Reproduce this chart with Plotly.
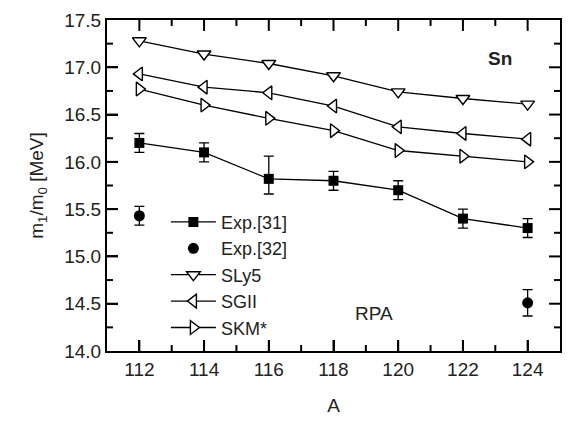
import plotly.graph_objects as go

A = [112, 114, 116, 118, 120, 122, 124]
sly5 = [17.28, 17.14, 17.04, 16.91, 16.74, 16.67, 16.61]
sgii = [16.93, 16.79, 16.73, 16.59, 16.37, 16.30, 16.24]
skm = [16.77, 16.60, 16.46, 16.33, 16.12, 16.06, 16.00]
exp31 = [16.2, 16.1, 15.82, 15.8, 15.7, 15.4, 15.3]
exp31_err_plus = [0.1, 0.1, 0.24, 0.1, 0.1, 0.1, 0.1]
exp31_err_minus = [0.1, 0.1, 0.16, 0.1, 0.1, 0.1, 0.1]
exp32_A = [112, 124]
exp32 = [15.43, 14.51]
exp32_err = [0.1, 0.14]

FONT = "Liberation Sans, Arial, sans-serif"
TXT = "#222222"
XR = [111, 125]
YR = [14.0, 17.5]
W, H = 572, 423
M = dict(l=107, r=10, t=20, b=70)

fig = go.Figure()
line = dict(color="black", width=1.3)
fig.add_trace(go.Scatter(x=A, y=exp31, mode="lines+markers", name="Exp.[31]",
                         line=line, marker=dict(symbol="square", size=10, color="black"),
                         error_y=dict(type="data", symmetric=False, array=exp31_err_plus,
                                      arrayminus=exp31_err_minus, color="black",
                                      thickness=1.3, width=5)))
fig.add_trace(go.Scatter(x=exp32_A, y=exp32, mode="markers", name="Exp.[32]",
                         marker=dict(symbol="circle", size=11, color="black"),
                         error_y=dict(type="data", array=exp32_err, color="black",
                                      thickness=1.3, width=5)))
for name, vals, sym in [("SLy5", sly5, "triangle-down"),
                        ("SGII", sgii, "triangle-left"),
                        ("SKM*", skm, "triangle-right")]:
    fig.add_trace(go.Scatter(x=A, y=vals, mode="lines+markers", name=name, line=line,
                             marker=dict(symbol=sym, size=12, color="white",
                                         line=dict(color="black", width=1.4))))

# inward tick marks on all four sides, drawn as one line trace at the tick values
pw = W - M["l"] - M["r"]
ph = H - M["t"] - M["b"]
dy_per_px = (YR[1] - YR[0]) / ph
dx_per_px = (XR[1] - XR[0]) / pw
major_x = A
minor_x = [a + 1 for a in A[:-1]]
major_y = [YR[0] + 0.5 * i for i in range(1, 7)]
minor_y = [YR[0] + 0.25 + 0.5 * i for i in range(7)]
tx, ty = [], []
for vals, ln in [(major_x, 11), (minor_x, 6)]:
    d = ln * dy_per_px
    for v in vals:
        tx += [v, v, None, v, v, None]
        ty += [YR[0], YR[0] + d, None, YR[1], YR[1] - d, None]
for vals, ln in [(major_y, 11), (minor_y, 6)]:
    d = ln * dx_per_px
    for v in vals:
        tx += [XR[0], XR[0] + d, None, XR[1], XR[1] - d, None]
        ty += [v, v, None, v, v, None]
fig.add_trace(go.Scatter(x=tx, y=ty, mode="lines", line=dict(color="black", width=2),
                         showlegend=False, hoverinfo="skip", cliponaxis=False,
                         connectgaps=False))

tf = dict(family=FONT, size=19, color=TXT)
fig.update_layout(
    template="simple_white", width=W, height=H, margin=M,
    plot_bgcolor="white", paper_bgcolor="white",
    xaxis=dict(range=XR, tickmode="array", tickvals=A, showline=True, linecolor="black",
               linewidth=2, mirror=True, ticks="inside", tickcolor="black", tickwidth=2,
               ticklen=11, showgrid=False, zeroline=False, tickfont=tf,
               title=dict(text="A", font=tf, standoff=20)),
    yaxis=dict(range=YR, tickmode="linear", tick0=14.0, dtick=0.5, tickformat=".1f",
               showline=True, linecolor="black", linewidth=2, mirror=True,
               ticks="inside", tickcolor="black", tickwidth=2, ticklen=11,
               showgrid=False, zeroline=False, tickfont=tf,
               title=dict(text="m<sub>1</sub>/m<sub>0</sub> [MeV]", font=tf, standoff=16)),
    legend=dict(x=0.13, y=0.445, xanchor="left", yanchor="top",
                bgcolor="rgba(0,0,0,0)", itemwidth=45, tracegroupgap=0,
                font=dict(family=FONT, size=18, color=TXT)),
)

fig.add_annotation(x=123.15, y=17.09, text="<b>Sn</b>", showarrow=False, font=tf)
fig.add_annotation(x=119.25, y=14.40, text="RPA", showarrow=False, font=tf)
fig.write_html("out.html")
